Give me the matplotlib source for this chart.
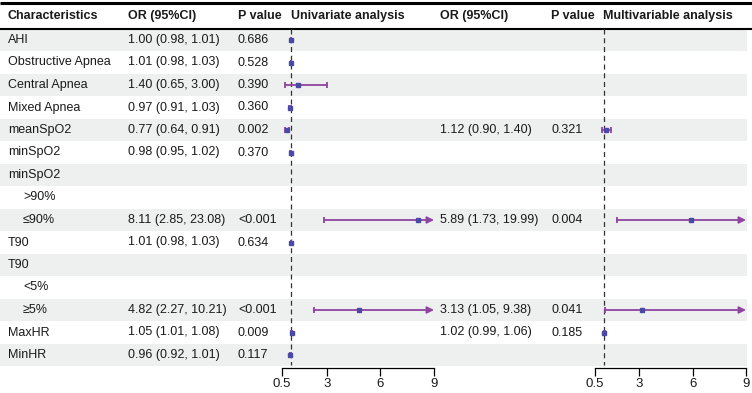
import numpy as np
import matplotlib
matplotlib.use("Agg")
import matplotlib.pyplot as plt

plt.rcParams['font.family'] = ['Liberation Sans', 'DejaVu Sans']

characteristics = ["AHI", "Obstructive Apnea", "Central Apnea", "Mixed Apnea", "meanSpO2",
                   "minSpO2", "minSpO2", ">90%", "≤90%", "T90", "T90", "<5%", "≥5%",
                   "MaxHR", "MinHR"]
is_sub = [False, False, False, False, False, False, False, True, True, False, False, True, True,
          False, False]
nan = np.nan
uni_or = [1.00, 1.01, 1.40, 0.97, 0.77, 0.98, nan, nan, 8.11, 1.01, nan, nan, 4.82, 1.05, 0.96]
uni_lo = [0.98, 0.98, 0.65, 0.91, 0.64, 0.95, nan, nan, 2.85, 0.98, nan, nan, 2.27, 1.01, 0.92]
uni_hi = [1.01, 1.03, 3.00, 1.03, 0.91, 1.02, nan, nan, 23.08, 1.03, nan, nan, 10.21, 1.08, 1.01]
uni_p = ["0.686", "0.528", "0.390", "0.360", "0.002", "0.370", "", "", "<0.001", "0.634", "", "",
         "<0.001", "0.009", "0.117"]
multi_or = [nan, nan, nan, nan, 1.12, nan, nan, nan, 5.89, nan, nan, nan, 3.13, 1.02, nan]
multi_lo = [nan, nan, nan, nan, 0.90, nan, nan, nan, 1.73, nan, nan, nan, 1.05, 0.99, nan]
multi_hi = [nan, nan, nan, nan, 1.40, nan, nan, nan, 19.99, nan, nan, nan, 9.38, 1.06, nan]
multi_p = ["", "", "", "", "0.321", "", "", "", "0.004", "", "", "", "0.041", "0.185", ""]
xticks = [0.5, 3, 6, 9]
ref_value = 1
x_min, x_max = 0.5, 9

W, H = 752, 393
fig = plt.figure(figsize=(W / 100, H / 100), dpi=100)
ax0 = fig.add_axes([0, 0, 1, 1])
ax0.set_xlim(0, W)
ax0.set_ylim(H, 0)
ax0.axis('off')

row0, dy = 40, 22.5
n = len(characteristics)
fs = 9
txt_col = '#1a1a1a'
shade = '#eeefef'
pt_col = '#4a4aa6'
ln_col = '#8e44a0'

# shaded bands
for i in range(n):
    if i % 2 == 0:
        yc = row0 + dy * i
        ax0.add_patch(plt.Rectangle((0, yc - dy / 2), 747, dy, color=shade, lw=0, zorder=0))

# header lines
ax0.plot([0, W], [3, 3], color='black', lw=2.2, solid_capstyle='butt')
ax0.plot([0, W], [28.5, 28.5], color='black', lw=1.5, solid_capstyle='butt')

hy = 16
heads = [(8, "Characteristics"), (128, "OR (95%CI)"), (238, "P value"), (291, "Univariate analysis"),
         (440, "OR (95%CI)"), (551, "P value"), (603, "Multivariable analysis")]
for x, t in heads:
    ax0.text(x, hy, t, fontsize=fs, fontweight='bold', va='center', ha='left', color=txt_col)

def fmt(o, l, h):
    if np.isnan(o):
        return ""
    return f"{o:.2f} ({l:.2f}, {h:.2f})"

for i in range(n):
    yc = row0 + dy * i
    ax0.text(23 if is_sub[i] else 8, yc, characteristics[i], fontsize=fs, va='center', color=txt_col)
    ax0.text(128, yc, fmt(uni_or[i], uni_lo[i], uni_hi[i]), fontsize=fs, va='center', color=txt_col)
    ax0.text(238, yc, uni_p[i], fontsize=fs, va='center', color=txt_col)
    ax0.text(440, yc, fmt(multi_or[i], multi_lo[i], multi_hi[i]), fontsize=fs, va='center', color=txt_col)
    ax0.text(552, yc, multi_p[i], fontsize=fs, va='center', color=txt_col)

y_top_px, y_bot_px = 28.5, 368

def forest(x0px, x1px, ors, los, his):
    ax = fig.add_axes([x0px / W, (H - y_bot_px) / H, (x1px - x0px) / W, (y_bot_px - y_top_px) / H])
    ax.patch.set_alpha(0)
    ax.set_xlim(x_min, x_max)
    ax.set_ylim((y_bot_px - row0) / dy, (y_top_px - row0) / dy)
    for s in ['top', 'right', 'left']:
        ax.spines[s].set_visible(False)
    ax.spines['bottom'].set_linewidth(0.9)
    ax.set_yticks([])
    ax.set_xticks(xticks)
    ax.set_xticklabels([f"{t:g}" for t in xticks], fontsize=9.5, color=txt_col)
    ax.tick_params(axis='x', length=6, width=0.9, pad=1.5)
    ax.vlines(ref_value, (y_top_px - row0) / dy, (365 - row0) / dy, colors='#333333',
              linestyles=(0, (4, 3)), lw=0.9, zorder=1)
    capw = 0.13
    for i in range(len(ors)):
        o, l, h = ors[i], los[i], his[i]
        if np.isnan(o):
            continue
        lo_c = max(l, x_min)
        if h > x_max:
            ax.annotate('', xy=(x_max, i), xytext=(lo_c, i),
                        arrowprops=dict(arrowstyle='-|>', color=ln_col, lw=1.3,
                                        shrinkA=0, shrinkB=0, mutation_scale=10),
                        annotation_clip=False, zorder=2)
            ax.vlines(lo_c, i - capw, i + capw, colors=ln_col, lw=1.3, zorder=2)
        else:
            ax.plot([lo_c, h], [i, i], color=ln_col, lw=1.3, zorder=2, solid_capstyle='butt')
            ax.vlines([lo_c, h], i - capw, i + capw, colors=ln_col, lw=1.3, zorder=2)
        ax.plot([o], [i], marker='s', ms=3.4, color=pt_col, mec=pt_col, zorder=3)
    return ax

forest(282, 434, uni_or, uni_lo, uni_hi)
forest(595, 746, multi_or, multi_lo, multi_hi)

fig.savefig('out.png', dpi=100)
